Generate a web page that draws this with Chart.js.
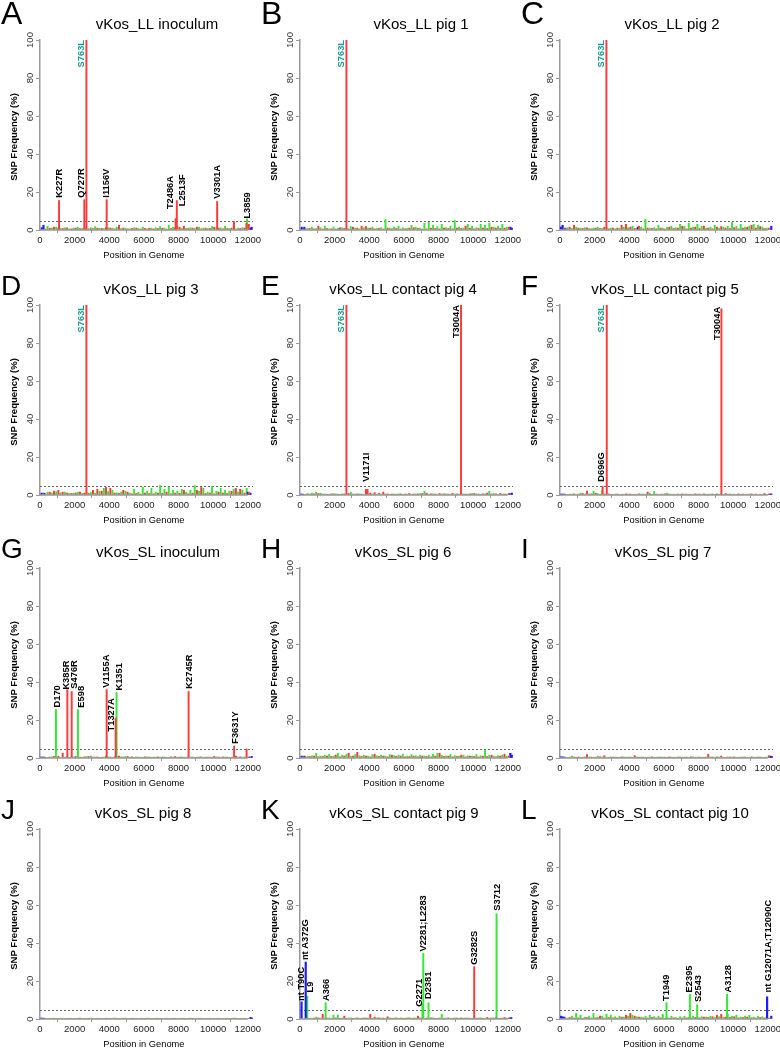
<!DOCTYPE html>
<html><head><meta charset="utf-8">
<script src="https://cdn.jsdelivr.net/npm/chart.js@4.4.1/dist/chart.umd.min.js"></script>
<style>
html,body{margin:0;padding:0;background:#fff;}
#wrap{position:relative;width:780px;height:1049px;overflow:hidden;background:#fff;}
.cell{position:absolute;width:270px;height:260px;}
</style></head><body><div id="wrap"></div>
<script>
// ---------- DATA ----------
const NOISE_POS = [0,250,500,750,1000,1250,1500,1750,2000,2250,2500,2750,3000,3250,3500,3750,4000,4250,4500,4750,5000,5250,5500,5750,6000,6250,6500,6750,7000,7250,7500,7750,8000,8250,8500,8750,9000,9250,9500,9750,10000,10250,10500,10750,11000,11250,11500,11750,12000];
const X_TICKS = [0,2000,4000,6000,8000,10000,12000];
const Y_TICKS = [0,20,40,60,80,100];

// A  vKos_LL inoculum
const A_redNoise = [0,0.5,1,1.5,1,0.8,1.2, 0.6,1,0.8,1,0.6,0.8,1, 0.8,1.2,1,0.6,2.5,1,0.6, 0.8,1,0.5,0.8,1,0.6,0.8, 1,0.5,0.8,1.2,1.5,2,0.8, 1,1.5,0.6,1,0.8,1.5,1, 0.6,0.8,1,0.5,0.8,1,3];
const A_greenNoise = [0,2,1,1.5,0.8,1.2,0.6, 1,1.5,0.8,0.6,1.2,1.8,1, 0.8,1.2,1,1.5,0.8,1,0.6, 1.2,0.8,1.5,0.6,1,1.2,1.8, 1,2.5,1.5,2,0.8,1,1.2, 0.8,1.5,1,0.8,1.8,1,1.2, 2,0.8,2.8,1,1.2,0.8,0];
const A_blue = [[100,1.2],[200,2.5],[12150,1],[12220,1.5]];
const A_redSpikes = [[1100,15.5],[2560,16],[2680,100],[3850,16],[7830,6],[7900,15.5],[10230,15],[11200,4.5],[11920,3.5]];
const A_greenSpikes = [[11960,5.8]];
const A_labels = [[2420,100,'S763L','end','t'],[1100,17,'K227R','start','k'],[2420,17,'Q727R','start','k'],[3850,17,'I1156V','start','k'],[7560,11,'T2486A','start','k'],[8200,12.5,'L2513F','start','k'],[10270,16.5,'V3301A','start','k'],[12000,6,'L3859','start','k']];

// B  vKos_LL pig 1
const B_redNoise = [0,0.5,0.8,0.6,2,0.5,0.8, 0.6,0.5,1,0.8,0.5,1.5,1, 2,1.8,1,0.6,0.8,0.5,1, 0.6,0.8,0.5,0.6,1,1.2,0.8, 0.5,0.6,1,0.8,0.6,1,0.8, 0.6,1,0.8,2,1,0.6,0.8, 1,0.8,1.5,1,0.8,1,1.5];
const B_greenNoise = [0,1,1.5,0.8,1.2,2,0.6, 1.5,0.8,1.2,1,1.8,1,0.6, 1.2,1,1.5,0.8,1.2,5.5,1, 1.5,2,1.2,0.8,2.5,1.5,1, 3.5,4,2.5,1.8,3,1.2,2, 5,1.5,1,3,2,1.2,3, 2.5,3.5,1.5,2,3,1.5,0];
const B_blue = [[100,1.5],[250,1.5],[2300,1],[12150,1.5],[12230,1]];
const B_redSpikes = [[2680,100]];
const B_labels = [[2420,100,'S763L','end','t']];

// C  vKos_LL pig 2
const C_redNoise = [0,0.8,1.5,2.5,1,0.8,1.2, 0.6,1,0.8,1.5,0.6,1,1, 2.5,3,1.5,0.8,2,0.6,1, 0.8,0.6,1,0.5,1.5,0.8,1, 2,0.6,1,1.5,0.8,2,1, 0.6,1.5,1.8,1,0.8,1.2,0.6, 1,1.5,2.5,1,1.8,0.8,1];
const C_greenNoise = [0,1.2,0.8,1.5,1,1.2,0.8, 1,1.5,0.8,1.2,1,0.6,1, 1.5,1.2,2,1,1.5,5.5,1, 1.2,2.5,1,1.5,2,1.2,3, 2,3.5,1.5,3,2,1,1.5, 2.5,1,1.5,2,4,2,3, 1.5,2,3,2.5,1.5,1,0];
const C_blue = [[50,1.5],[150,2.5],[300,1],[4500,1.5],[12200,2]];
const C_redSpikes = [[2680,100]];
const C_labels = [[2420,100,'S763L','end','t']];

// D  vKos_LL pig 3
const D_redNoise = [0,0.5,1.5,2,2.5,1.5,1, 0.8,1,1.5,1,0.8,2.5,3, 2,4,3.5,1,0.8,2.5,1.5, 0.6,0.8,0.5,1,0.8,0.6,1, 0.8,1.5,0.6,1,0.8,2.5,0.6, 1,2.5,4,0.8,1,0.6,1.5, 1,0.8,2,3.5,3,1,1.5];
const D_greenNoise = [0,1.5,1,1.8,1.2,1.5,0.8, 1,1.5,0.8,1.2,1.5,1,2, 3.5,1.8,2.5,1.2,1.5,2,1, 3,1.5,4,2,3.5,1.5,5, 3,4,2.5,2,3,1.5,2.5, 5,2,3.5,1.5,4.5,2,3.5, 2.5,2,3,1.5,2.5,3.5,0];
const D_blue = [[100,1],[250,1],[12000,1.5],[12150,1]];
const D_redSpikes = [[2680,100]];
const D_labels = [[2420,100,'S763L','end','t']];

// E  vKos_LL contact pig 4
const E_redNoise = [0,0.3,0.5,0.6,0.8,0.5,0.4, 0.6,0.5,0.4,0.6,0.8,0.5,0.6, 0.5,3,1,1.2,0.8,1.5,0.6, 0.5,0.4,0.6,0.5,0.8,0.5,0.6, 0.8,1,0.6,0.5,0.8,0.6,0.5, 0.8,0.6,1,0.5,0.6,0.8,0.5, 0.6,1,0.5,0.6,0.8,0.5,0.6];
const E_greenNoise = [0,0.8,1,1.5,1,0.6,0.4, 0.8,0.5,0.6,0.4,1.5,0.5,0.6, 0.4,0.5,0.6,0.4,0.5,0.6,0.4, 0.5,0.6,0.4,0.5,0.4,0.6,0.8, 2,0.5,0.6,0.4,0.5,0.6,0.4, 0.5,0.4,0.6,0.5,0.8,0.6,0.4, 0.6,2,0.8,0.4,0.6,0.5,0];
const E_blue = [[50,0.5],[150,0.5],[12100,0.8],[12230,1]];
const E_redSpikes = [[2680,100],[3900,3],[9300,100]];
const E_labels = [[2420,100,'S763L','end','t'],[3810,7,'V1171I','start','k'],[9060,100,'T3004A','end','k']];

// F  vKos_LL contact pig 5
const F_redNoise = [0,0.3,0.4,0.6,0.5,0.8,2, 0.6,1,0.4,0.5,0.6,0.4,0.5, 0.4,0.6,0.5,0.4,0.6,0.5,1.5, 0.4,0.5,0.4,0.6,0.5,0.4,0.5, 0.6,0.5,0.4,0.6,0.5,0.6,0.4, 0.5,0.6,0.5,0.8,0.5,0.4,0.6, 0.5,0.4,0.6,0.5,0.4,0.8,0.5];
const F_greenNoise = [0,0.3,0.5,0.4,1,0.5,0.6, 2,0.8,2.5,0.5,0.4,0.5,0.3, 0.4,0.5,0.3,0.4,0.5,0.4,1, 1.8,0.4,0.5,1,0.4,0.3,0.4, 0.5,0.3,0.4,0.5,0.3,0.4,0.5, 0.3,0.4,0.3,0.5,0.4,0.3,0.4, 0.3,0.5,0.4,0.3,0.4,0.3,0];
const F_blue = [[50,0.5],[150,0.5],[250,0.5],[12100,0.5],[12200,0.6]];
const F_redSpikes = [[2460,4.5],[2700,100],[9320,98]];
const F_labels = [[2420,100,'S763L','end','t'],[2420,7,'D696G','start','k'],[9100,99,'T3004A','end','k']];

// G  vKos_SL inoculum
const G_redNoise = [0,0.3,0.5,0.8,1,2.5,0.6, 0.5,0.8,0.5,0.6,0.8,0.5,0.6, 0.4,0.8,0.5,0.6,1,0.5,0.8, 0.6,0.5,0.4,0.6,0.5,0.4,0.6, 0.5,0.4,0.6,0.8,0.5,0.4,0.6, 0.5,0.4,0.6,0.5,0.4,0.8,0.5, 0.6,0.5,0.4,1,0.6,0.5,0.4];
const G_greenNoise = [0,0.4,0.6,0.5,0.4,0.5,0.4, 0.6,0.5,0.4,0.8,1,0.5,0.4, 0.5,0.6,0.4,0.5,0.6,0.8,0.5, 0.4,0.5,0.4,0.6,0.4,0.5,0.4, 0.6,0.4,0.5,0.4,0.6,0.4,0.5, 0.4,0.6,0.4,0.5,0.4,0.6,0.4, 0.5,0.4,0.6,0.5,0.4,0.6,0];
const G_blue = [[50,0.5],[150,0.5],[250,0.5],[12100,0.6],[12230,0.8]];
const G_redSpikes = [[1580,36],[1830,35],[3850,36],[4370,21],[8580,35],[11210,6.3],[11930,4.7]];
const G_greenSpikes = [[920,25.5],[2190,25.5],[4420,34.5]];
const G_labels = [[1000,26.6,'D170','start','k'],[1540,36,'K385R','start','k'],[1960,36.5,'S476R','start','k'],[2370,26.5,'E598','start','k'],[3850,37,'V1155A','start','k'],[4140,14,'T1327A','start','k'],[4560,35.5,'K1351','start','k'],[8620,36.5,'K2745R','start','k'],[11270,7.5,'F3631Y','start','k']];

// H  vKos_SL pig 6
const H_redNoise = [0,0.5,0.8,1,0.6,0.8,1, 0.8,1.5,0.6,1,2.5,1,3, 0.8,1,0.6,2,0.8,1,0.6, 1.5,0.8,1,0.6,0.8,1,0.6, 1,0.8,0.6,1,2.5,0.8,1, 0.6,0.8,1.5,0.6,1,0.8,0.6, 1,0.8,1.5,0.6,1,2,1];
const H_greenNoise = [0,0.8,1.2,2.5,1,1.5,2, 1,2.5,1.5,2,1,1.8,1.2, 1.5,1,1.8,1.2,1.5,1,1.8, 1.2,1.5,2,1,1.8,1.2,1.5, 1,1.5,2,2.5,1.5,1,1.8, 1.2,1,1.5,1.2,1,1.8,1.2, 4,1.5,1,1.2,1.5,1,0];
const H_blue = [[100,1],[250,1],[12150,2.5],[12230,1.5]];

// I  vKos_SL pig 7
const I_redNoise = [0,0.3,0.4,0.5,0.6,0.4,1.8, 0.5,0.4,0.6,1.2,0.4,0.5,0.4, 0.6,0.4,0.5,1.2,0.4,0.5,0.4, 0.6,0.4,0.5,0.4,0.6,0.4,0.5, 0.4,0.5,0.6,0.4,0.5,0.4,2, 0.5,0.6,1,0.4,0.5,0.6,0.4, 0.5,0.4,0.6,0.4,0.5,0.4,1.2];
const I_greenNoise = [0,0.4,1,0.5,0.4,0.6,0.5, 0.4,1,0.5,0.4,0.6,0.5,0.4, 0.6,0.5,0.4,0.6,0.5,0.4,0.5, 0.4,0.6,0.5,0.4,0.5,0.4,0.6, 0.5,0.4,0.6,0.5,0.4,0.5,0.6, 0.4,0.5,0.4,0.6,0.5,0.4,0.5, 0.6,0.4,0.5,0.6,0.4,0.5,0];
const I_blue = [[50,0.6],[150,0.6],[250,0.5],[12150,1],[12230,0.8]];

// J  vKos_SL pig 8
const J_redNoise = [0,0.2,0.3,0.4,0.3,0.4,0.3, 0.4,0.3,0.5,0.3,0.4,0.3,0.4, 0.3,0.4,0.3,0.5,0.3,0.4,0.3, 0.4,0.3,0.4,0.3,0.4,0.3,0.4, 0.3,0.4,0.3,0.4,0.3,0.4,0.3, 0.4,0.3,0.4,0.3,0.4,0.3,0.4, 0.3,0.4,0.3,0.4,0.3,0.4,0.3];
const J_greenNoise = [0,0.3,0.4,0.3,0.5,0.3,0.4, 0.3,0.4,0.3,0.4,0.5,0.3,0.4, 0.3,0.4,0.3,0.4,0.3,0.5,0.3, 0.4,0.3,0.4,0.5,0.3,0.4,0.3, 0.4,0.3,0.4,0.3,0.4,0.3,0.5, 0.3,0.4,0.3,0.4,0.3,0.4,0.3, 0.4,0.3,0.5,0.3,0.4,0.3,0];
const J_blue = [[50,0.5],[150,0.5],[250,0.4],[12150,0.8],[12230,0.6]];

// K  vKos_SL contact pig 9
const K_redNoise = [0,0.3,0.4,0.5,0.6,2.5,0.5, 0.4,0.6,0.4,1.5,0.5,0.4,0.6, 0.4,0.5,2.5,1,0.6,0.5,1.2, 0.4,0.6,0.5,0.4,0.6,0.5,1.5, 0.4,0.5,0.6,0.4,0.5,0.4,0.6, 0.4,0.5,0.6,0.5,0.4,0.6,0.5, 0.4,0.8,0.5,0.6,0.4,0.8,0.5];
const K_greenNoise = [0,0.3,0.4,1,0.5,0.4,0.6, 2,2,0.5,0.4,0.6,0.5,0.4, 0.6,0.5,0.4,0.6,0.5,0.4,0.6, 0.5,0.4,0.5,0.6,0.4,0.5,0.6, 0.4,0.5,0.6,0.4,2.5,0.5,0.4, 0.6,0.4,0.5,0.6,0.4,0.5,0.6, 0.4,0.5,0.6,0.4,0.5,0.4,0];
const K_blue = [[90,9],[330,30],[12100,0.5],[12200,0.8]];
const K_redSpikes = [[10060,27.5]];
const K_greenSpikes = [[420,12],[1480,8.6],[7070,8],[7120,34.5],[7420,8.6],[11350,55.4]];
const K_labels = [[100,9.5,'nt T90C','start','k'],[330,31,'nt A372G','start','k'],[580,14,'L9','start','k'],[1500,9.5,'A366','start','k'],[6870,6.5,'G2271','start','k'],[7150,35.5,'V2281;L2283','start','k'],[7440,10.5,'D2381','start','k'],[10100,28.5,'G3282S','start','k'],[11380,57,'S3712','start','k']];

// L  vKos_SL contact pig 10
const L_redNoise = [0,0.3,0.8,0.5,0.6,0.4,0.8, 0.5,0.6,1.5,0.5,0.8,0.6,0.5, 1,2,3,1.5,1,0.6,0.5, 0.8,0.5,0.6,0.4,0.5,0.6,0.4, 0.5,0.6,0.5,0.8,0.6,1,0.8, 1.2,2,2.5,1,0.8,1.2,0.6, 0.8,1,0.6,0.5,0.8,0.6,0.5];
const L_greenNoise = [0,0.5,1.5,3,2,1,1.5, 3,1,1.5,2.5,2,1.2,1.5, 1,1.5,2,1.2,1,1.5,2, 1.2,1.5,2.5,1,1.5,0.8,1.2, 1.5,1,1.5,0.8,1.2,1,1.5, 0.8,1.2,1,2.5,1.5,2,1, 1.5,2,1,1.5,1.2,1,0];
const L_blue = [[50,1.5],[150,1.2],[250,1],[11960,11.7],[12200,1.5]];
const L_greenSpikes = [[6150,8.6],[7500,13],[7920,7.5],[9650,13]];
const L_labels = [[6150,9.5,'T1949','start','k'],[7500,14,'E2395','start','k'],[7980,9,'S2543','start','k'],[9710,14,'A3128','start','k'],[12020,14,'nt G12071A;T12090C','start','k']];

const PANELS = [
  {letter:'A', title:'vKos_LL inoculum', tx:157, rN:A_redNoise, gN:A_greenNoise, rS:A_redSpikes, gS:A_greenSpikes, b:A_blue, lab:A_labels},
  {letter:'B', title:'vKos_LL pig 1', tx:161, rN:B_redNoise, gN:B_greenNoise, rS:B_redSpikes, gS:[], b:B_blue, lab:B_labels},
  {letter:'C', title:'vKos_LL pig 2', tx:152, rN:C_redNoise, gN:C_greenNoise, rS:C_redSpikes, gS:[], b:C_blue, lab:C_labels},
  {letter:'D', title:'vKos_LL pig 3', tx:151, rN:D_redNoise, gN:D_greenNoise, rS:D_redSpikes, gS:[], b:D_blue, lab:D_labels},
  {letter:'E', title:'vKos_LL contact pig 4', tx:143, rN:E_redNoise, gN:E_greenNoise, rS:E_redSpikes, gS:[], b:E_blue, lab:E_labels},
  {letter:'F', title:'vKos_LL contact pig 5', tx:145, rN:F_redNoise, gN:F_greenNoise, rS:F_redSpikes, gS:[], b:F_blue, lab:F_labels},
  {letter:'G', title:'vKos_SL inoculum', tx:158, rN:G_redNoise, gN:G_greenNoise, rS:G_redSpikes, gS:G_greenSpikes, b:G_blue, lab:G_labels},
  {letter:'H', title:'vKos_SL pig 6', tx:143, rN:H_redNoise, gN:H_greenNoise, rS:[], gS:[], b:H_blue, lab:[]},
  {letter:'I', title:'vKos_SL pig 7', tx:143, rN:I_redNoise, gN:I_greenNoise, rS:[], gS:[], b:I_blue, lab:[]},
  {letter:'J', title:'vKos_SL pig 8', tx:143, rN:J_redNoise, gN:J_greenNoise, rS:[], gS:[], b:J_blue, lab:[]},
  {letter:'K', title:'vKos_SL contact pig 9', tx:144, rN:K_redNoise, gN:K_greenNoise, rS:K_redSpikes, gS:K_greenSpikes, b:K_blue, lab:K_labels},
  {letter:'L', title:'vKos_SL contact pig 10', tx:150, rN:L_redNoise, gN:L_greenNoise, rS:[], gS:L_greenSpikes, b:L_blue, lab:L_labels}
];

// ---------- STYLE / LAYOUT ----------
const ROW_TOPS = [0,265,528,789];
const RED = '#ff3a3a', GREEN = '#33e833', BLUE = '#1a1aff', TEAL = '#1b9a96';
const FF = '"Liberation Sans", Arial, Helvetica, sans-serif';

function noiseData(vals, off){
  const out = [];
  vals.forEach((v,i)=>{ if(i<NOISE_POS.length) out.push({x:NOISE_POS[i]+off, y:v}); });
  return out;
}
function pairData(arr){ return arr.map(p=>({x:p[0], y:p[1]})); }
function sorted(a){ return a.sort((p,q)=>p.x-q.x); }

function decorPlugin(p, row){
  return {
    id:'decor',
    beforeDatasetsDraw(chart){
      const {ctx, chartArea:ca, scales:{x,y}} = chart;
      ctx.save();
      ctx.strokeStyle = '#666'; ctx.lineWidth = 1; ctx.setLineDash([2,2]);
      const y5 = Math.round(y.getPixelForValue(5)) + 0.5;
      ctx.beginPath(); ctx.moveTo(ca.left, y5); ctx.lineTo(ca.right, y5); ctx.stroke();
      ctx.restore();
    },
    afterDraw(chart){
      const {ctx, chartArea:ca, scales:{x,y}} = chart;
      ctx.save();
      // x axis line from first to last tick
      ctx.strokeStyle = '#999'; ctx.lineWidth = 1.5;
      ctx.beginPath();
      ctx.moveTo(x.getPixelForValue(X_TICKS[0]), ca.bottom);
      ctx.lineTo(x.getPixelForValue(X_TICKS[X_TICKS.length-1]), ca.bottom);
      ctx.stroke();
      // y tick labels (rotated, parallel to axis)
      ctx.fillStyle = '#333';
      ctx.font = '9.5px ' + FF;
      ctx.textAlign = 'center'; ctx.textBaseline = 'middle';
      Y_TICKS.forEach(v=>{
        ctx.save();
        ctx.translate(ca.left - 10, y.getPixelForValue(v));
        ctx.rotate(-Math.PI/2);
        ctx.fillText(String(v), 0, 0);
        ctx.restore();
      });
      // y axis title
      ctx.fillStyle = '#000';
      ctx.font = 'bold 9.5px ' + FF;
      ctx.save();
      ctx.translate(14, (ca.top + ca.bottom)/2 + 2);
      ctx.rotate(-Math.PI/2);
      ctx.fillText('SNP Frequency (%)', 0, 0);
      ctx.restore();
      // x axis title
      ctx.font = '9.3px ' + FF;
      const xc = (x.getPixelForValue(X_TICKS[0]) + x.getPixelForValue(X_TICKS[X_TICKS.length-1]))/2;
      ctx.fillText('Position in Genome', xc, ca.bottom + 25);
      // panel title
      ctx.font = '15px ' + FF;
      ctx.textBaseline = 'alphabetic';
      ctx.fillText(p.title, p.tx, 29);
      // panel letter
      ctx.font = (row === 0 ? '32px ' : '28px ') + FF;
      ctx.textAlign = 'left';
      ctx.fillText(p.letter, 1, row === 0 ? 24 : 30);
      // spike labels
      ctx.font = 'bold 9.3px ' + FF;
      ctx.textBaseline = 'middle';
      p.lab.forEach(l=>{
        const px = x.getPixelForValue(l[0]), py = y.getPixelForValue(l[1]);
        ctx.save();
        ctx.translate(px, py);
        ctx.rotate(-Math.PI/2);
        ctx.textAlign = l[3] === 'end' ? 'right' : 'left';
        ctx.fillStyle = l[4] === 't' ? TEAL : '#000';
        ctx.fillText(l[2], 0, 0);
        ctx.restore();
      });
      ctx.restore();
    }
  };
}

const wrap = document.getElementById('wrap');
PANELS.forEach((p, idx)=>{
  const col = idx % 3, row = Math.floor(idx/3);
  const div = document.createElement('div');
  div.className = 'cell';
  div.style.left = (col*260) + 'px';
  div.style.top = ROW_TOPS[row] + 'px';
  const cv = document.createElement('canvas');
  cv.width = 270; cv.height = 260;
  cv.style.width = '270px'; cv.style.height = '260px';
  div.appendChild(cv); wrap.appendChild(div);

  const redData = sorted(noiseData(p.rN, 60).concat(pairData(p.rS)));
  const greenData = sorted(noiseData(p.gN, 185).concat(pairData(p.gS)));
  const blueData = sorted(pairData(p.b));

  new Chart(cv, {
    type:'bar',
    data:{datasets:[
      {label:'nonsynonymous', data:redData, backgroundColor:RED, barThickness:1.3, borderWidth:0, order:1},
      {label:'noncoding', data:blueData, backgroundColor:BLUE, barThickness:1.5, borderWidth:0, order:2},
      {label:'synonymous', data:greenData, backgroundColor:GREEN, barThickness:1.3, borderWidth:0, order:3}
    ]},
    options:{
      responsive:false, maintainAspectRatio:false, animation:false, devicePixelRatio:1,
      layout:{padding:{top:40, right:17, bottom:0, left:0}},
      plugins:{legend:{display:false}, tooltip:{enabled:false}, title:{display:false}},
      datasets:{bar:{grouped:false}},
      scales:{
        x:{
          type:'linear', min:0, max:12300, offset:false,
          afterBuildTicks(s){ s.ticks = X_TICKS.map(v=>({value:v})); },
          ticks:{autoSkip:false, maxRotation:0, minRotation:0, color:'#222', padding:2, font:{family:FF, size:9.5},
                 callback:(v)=>String(v)},
          grid:{display:true, drawOnChartArea:false, drawTicks:true, tickLength:3, color:'#999'},
          border:{display:false},
          afterFit(s){ s.height = 30; }
        },
        y:{
          min:0, max:100,
          afterBuildTicks(s){ s.ticks = Y_TICKS.map(v=>({value:v})); },
          ticks:{display:false},
          grid:{display:true, drawOnChartArea:false, drawTicks:true, tickLength:4, color:'#999'},
          border:{display:true, color:'#999', width:1.5},
          afterFit(s){ s.width = 40; }
        }
      }
    },
    plugins:[decorPlugin(p, row)]
  });
});
</script>
</body></html>
